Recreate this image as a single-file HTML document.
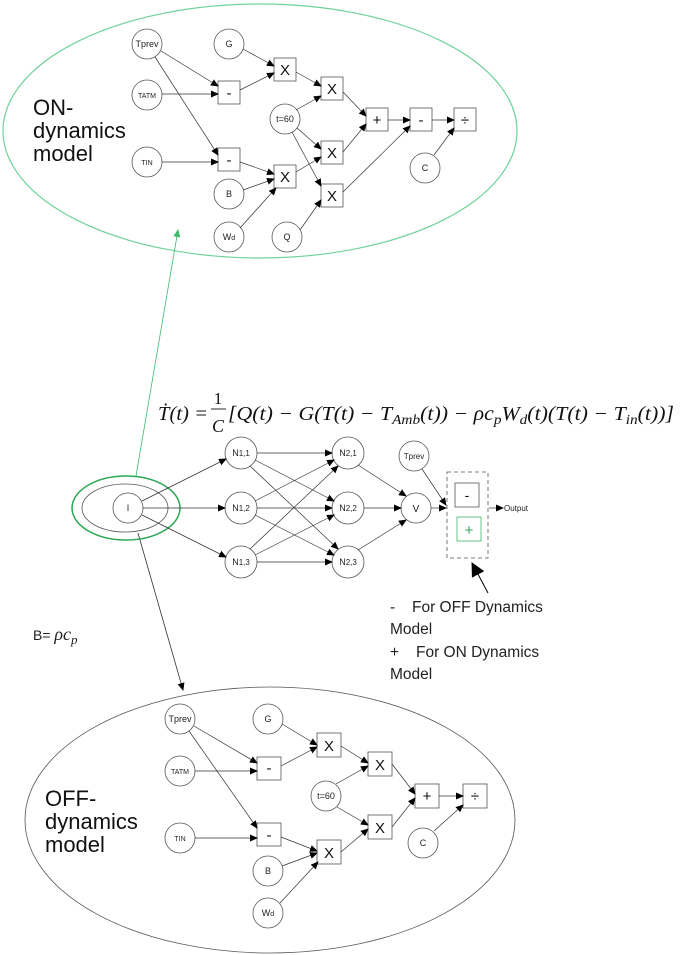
<!DOCTYPE html>
<html><head><meta charset="utf-8"><style>
html,body{margin:0;padding:0;background:#fff;}
svg{display:block;font-family:"Liberation Sans",sans-serif;}
</style></head><body>
<svg width="685" height="955" viewBox="0 0 685 955" xmlns="http://www.w3.org/2000/svg">
<defs>
<marker id="a" markerWidth="8" markerHeight="8" refX="7" refY="4" orient="auto" markerUnits="userSpaceOnUse"><path d="M0,0.5 L8,4 L0,7.5 z" fill="#000"/></marker>
<marker id="ag" markerWidth="8" markerHeight="8" refX="7" refY="4" orient="auto" markerUnits="userSpaceOnUse"><path d="M0,0.5 L8,4 L0,7.5 z" fill="#3cba6a"/></marker>
<marker id="ab" markerWidth="14" markerHeight="14" refX="13" refY="7" orient="auto" markerUnits="userSpaceOnUse"><path d="M0,0 L14,7 L0,14 z" fill="#000"/></marker>
</defs>
<g fill="none" stroke="#555" stroke-width="0.8">
<!-- TOP -->
<ellipse cx="260" cy="131" rx="257" ry="127" stroke="#6fd29a" stroke-width="1.2"/>
<circle cx="147" cy="44" r="15"/><circle cx="229" cy="44" r="15"/><circle cx="147" cy="95" r="15"/>
<circle cx="147" cy="162" r="15"/><circle cx="229" cy="194" r="15"/><circle cx="229" cy="237" r="15"/>
<circle cx="285" cy="119" r="15"/><circle cx="287" cy="237" r="15"/><circle cx="425" cy="168" r="15"/>
<rect x="218" y="81" width="22" height="23"/><rect x="274" y="58" width="22" height="23"/>
<rect x="321" y="77" width="22" height="23"/><rect x="218" y="148" width="22" height="23"/>
<rect x="274" y="165" width="22" height="23"/><rect x="321" y="141" width="22" height="23"/>
<rect x="321" y="184" width="22" height="23"/><rect x="366" y="108" width="22" height="23"/>
<rect x="410" y="108" width="22" height="23"/><rect x="454" y="108" width="22" height="23"/>
</g>
<g stroke="#333" stroke-width="0.7" marker-end="url(#a)">
<line x1="161" y1="51" x2="218" y2="86"/><line x1="155" y1="57" x2="218" y2="155"/>
<line x1="162" y1="94" x2="218" y2="94"/><line x1="162" y1="162" x2="218" y2="162"/>
<line x1="243" y1="49" x2="274" y2="66"/><line x1="240" y1="90" x2="274" y2="73"/>
<line x1="240" y1="162" x2="274" y2="174"/><line x1="243" y1="190" x2="274" y2="179"/>
<line x1="240" y1="228" x2="276" y2="188"/><line x1="296" y1="72" x2="321" y2="86"/>
<line x1="296" y1="110" x2="321" y2="96"/><line x1="297" y1="128" x2="321" y2="149"/>
<line x1="292" y1="132" x2="321" y2="186"/><line x1="296" y1="172" x2="321" y2="157"/>
<line x1="300" y1="230" x2="321" y2="200"/><line x1="343" y1="92" x2="366" y2="116"/>
<line x1="343" y1="152" x2="366" y2="124"/><line x1="388" y1="120" x2="410" y2="120"/>
<line x1="343" y1="192" x2="410" y2="126"/><line x1="432" y1="120" x2="454" y2="120"/>
<line x1="434" y1="155" x2="454" y2="128"/>
</g>
<g font-size="9" fill="#222" text-anchor="middle">
<text x="147" y="47">Tprev</text><text x="229" y="47">G</text><text x="147" y="98" font-size="7">TATM</text>
<text x="147" y="165" font-size="7">TIN</text><text x="229" y="197">B</text><text x="229" y="240">W<tspan font-size="7">d</tspan></text>
<text x="285" y="122">t=60</text><text x="287" y="240">Q</text><text x="425" y="171">C</text>
</g>
<g font-size="15" fill="#111" text-anchor="middle">
<text x="229" y="98">-</text><text x="285" y="75">X</text><text x="332" y="94">X</text>
<text x="229" y="165">-</text><text x="285" y="182">X</text><text x="332" y="158">X</text>
<text x="332" y="201">X</text><text x="377" y="125">+</text><text x="421" y="125">-</text><text x="465" y="125">÷</text>
</g>
<g font-size="22" fill="#111"><text x="33" y="115">ON-</text><text x="33" y="138">dynamics</text><text x="33" y="161">model</text></g>

<!-- MIDDLE -->
<line x1="136" y1="476" x2="178" y2="230" stroke="#3cba6a" stroke-width="0.8" marker-end="url(#ag)"/>
<line x1="138" y1="533" x2="183" y2="690" stroke="#333" stroke-width="0.8" marker-end="url(#a)"/>
<g font-family="Liberation Serif,serif" font-style="italic" fill="#111">
<text x="158" y="420" font-size="20" textLength="50" lengthAdjust="spacingAndGlyphs">Ṫ(t) =</text>
<text x="218" y="404" font-size="17" font-style="normal" text-anchor="middle">1</text>
<line x1="211" y1="409" x2="226" y2="409" stroke="#111" stroke-width="0.9"/>
<text x="218" y="432" font-size="18" text-anchor="middle">C</text>
<text x="228" y="420" font-size="20" textLength="446" lengthAdjust="spacingAndGlyphs">[Q(t) − G(T(t) − T<tspan font-size="14" dy="4">Amb</tspan><tspan dy="-4">(t))  − ρc</tspan><tspan font-size="14" dy="4">p</tspan><tspan dy="-4">W</tspan><tspan font-size="14" dy="4">d</tspan><tspan dy="-4">(t)(T(t) − T</tspan><tspan font-size="14" dy="4">in</tspan><tspan dy="-4">(t))]</tspan></text>
</g>
<g fill="none" stroke="#555" stroke-width="0.8">
<ellipse cx="126" cy="508" rx="54" ry="32" stroke="#2aa852" stroke-width="1.5"/>
<ellipse cx="125" cy="508" rx="43" ry="24"/>
<circle cx="128" cy="508" r="15"/>
<circle cx="241" cy="453" r="16"/><circle cx="241" cy="508" r="16"/><circle cx="241" cy="562" r="16"/>
<circle cx="348" cy="453" r="16"/><circle cx="348" cy="508" r="16"/><circle cx="348" cy="562" r="16"/>
<circle cx="416" cy="508" r="15"/><circle cx="414" cy="456" r="15"/>
<rect x="447" y="472" width="41" height="86" stroke-dasharray="4,3"/>
<rect x="455" y="483" width="24" height="24"/>
<rect x="457" y="517" width="24" height="24" stroke="#3cba6a"/>
</g>
<g stroke="#333" stroke-width="0.7" marker-end="url(#a)">
<line x1="142" y1="501" x2="226" y2="459"/><line x1="143" y1="508" x2="225" y2="508"/><line x1="142" y1="515" x2="226" y2="557"/>
<line x1="257" y1="453" x2="332" y2="453"/><line x1="255" y1="460" x2="334" y2="501"/><line x1="250" y1="466" x2="338" y2="549"/>
<line x1="255" y1="501" x2="334" y2="460"/><line x1="257" y1="508" x2="332" y2="508"/><line x1="255" y1="515" x2="334" y2="555"/>
<line x1="250" y1="549" x2="338" y2="466"/><line x1="255" y1="555" x2="334" y2="515"/><line x1="257" y1="562" x2="332" y2="562"/>
<line x1="358" y1="465" x2="406" y2="496"/><line x1="364" y1="508" x2="401" y2="508"/><line x1="358" y1="550" x2="406" y2="520"/>
<line x1="422" y1="469" x2="446" y2="505"/><line x1="431" y1="508" x2="446" y2="508"/>
<line x1="489" y1="508" x2="503" y2="508"/>
</g>
<line x1="488" y1="593" x2="472" y2="563" stroke="#000" stroke-width="1" marker-end="url(#ab)"/>
<g font-size="9" fill="#222" text-anchor="middle">
<text x="128" y="511">I</text>
<text x="241" y="456">N<tspan font-size="8">1,1</tspan></text><text x="241" y="511">N<tspan font-size="8">1,2</tspan></text><text x="241" y="565">N<tspan font-size="8">1,3</tspan></text>
<text x="348" y="456">N<tspan font-size="8">2,1</tspan></text><text x="348" y="511">N<tspan font-size="8">2,2</tspan></text><text x="348" y="565">N<tspan font-size="8">2,3</tspan></text>
<text x="416" y="512" font-size="10">V</text><text x="414" y="459" font-size="8">Tprev</text>
<text x="504" y="511" text-anchor="start" font-size="8">Output</text>
</g>
<text x="467" y="500" font-size="14" text-anchor="middle" fill="#111">-</text>
<text x="469" y="535" font-size="15" text-anchor="middle" fill="#2aa852">+</text>
<g font-size="15.5" fill="#222">
<text x="390" y="612">-</text><text x="412" y="612">For OFF Dynamics</text>
<text x="390" y="634">Model</text>
<text x="390" y="657">+</text><text x="416" y="657">For ON Dynamics</text>
<text x="390" y="679">Model</text>
</g>
<text x="33" y="640" font-size="14" fill="#222">B= <tspan font-family="Liberation Serif,serif" font-style="italic" font-size="18">ρc</tspan><tspan font-family="Liberation Serif,serif" font-style="italic" font-size="13" dy="4">p</tspan></text>

<!-- BOTTOM -->
<g fill="none" stroke="#555" stroke-width="0.8">
<ellipse cx="270" cy="820" rx="245" ry="133"/>
<circle cx="180" cy="719" r="15"/><circle cx="268" cy="719" r="15"/><circle cx="180" cy="771" r="15"/>
<circle cx="180" cy="838" r="15"/><circle cx="268" cy="871" r="15"/><circle cx="268" cy="913" r="15"/>
<circle cx="326" cy="796" r="15"/><circle cx="423" cy="843" r="15"/>
<rect x="257" y="757" width="24" height="23"/><rect x="317" y="733" width="24" height="24"/>
<rect x="368" y="752" width="24" height="24"/><rect x="257" y="823" width="24" height="23"/>
<rect x="317" y="840" width="24" height="24"/><rect x="368" y="815" width="24" height="24"/>
<rect x="415" y="784" width="24" height="24"/><rect x="463" y="784" width="24" height="24"/>
</g>
<g stroke="#333" stroke-width="0.7" marker-end="url(#a)">
<line x1="194" y1="726" x2="257" y2="763"/><line x1="189" y1="731" x2="257" y2="828"/>
<line x1="195" y1="771" x2="257" y2="771"/><line x1="195" y1="838" x2="257" y2="838"/>
<line x1="282" y1="724" x2="317" y2="745"/><line x1="281" y1="766" x2="317" y2="747"/>
<line x1="281" y1="837" x2="317" y2="851"/><line x1="282" y1="866" x2="317" y2="853"/>
<line x1="280" y1="903" x2="318" y2="862"/><line x1="341" y1="746" x2="368" y2="763"/>
<line x1="336" y1="784" x2="368" y2="766"/><line x1="337" y1="807" x2="368" y2="825"/>
<line x1="341" y1="852" x2="368" y2="829"/><line x1="392" y1="764" x2="415" y2="794"/>
<line x1="392" y1="827" x2="415" y2="798"/><line x1="439" y1="796" x2="463" y2="796"/>
<line x1="434" y1="831" x2="463" y2="805"/>
</g>
<g font-size="9" fill="#222" text-anchor="middle">
<text x="180" y="722">Tprev</text><text x="268" y="722">G</text><text x="180" y="774" font-size="7">TATM</text>
<text x="180" y="841" font-size="7">TIN</text><text x="268" y="874">B</text><text x="268" y="916">W<tspan font-size="7">d</tspan></text>
<text x="326" y="799">t=60</text><text x="423" y="846">C</text>
</g>
<g font-size="15" fill="#111" text-anchor="middle">
<text x="269" y="773">-</text><text x="329" y="751">X</text><text x="380" y="770">X</text>
<text x="269" y="840">-</text><text x="329" y="858">X</text><text x="380" y="833">X</text>
<text x="427" y="801">+</text><text x="475" y="801">÷</text>
</g>
<g font-size="22" fill="#111"><text x="45" y="806">OFF-</text><text x="45" y="829">dynamics</text><text x="45" y="852">model</text></g>
</svg>
</body></html>
